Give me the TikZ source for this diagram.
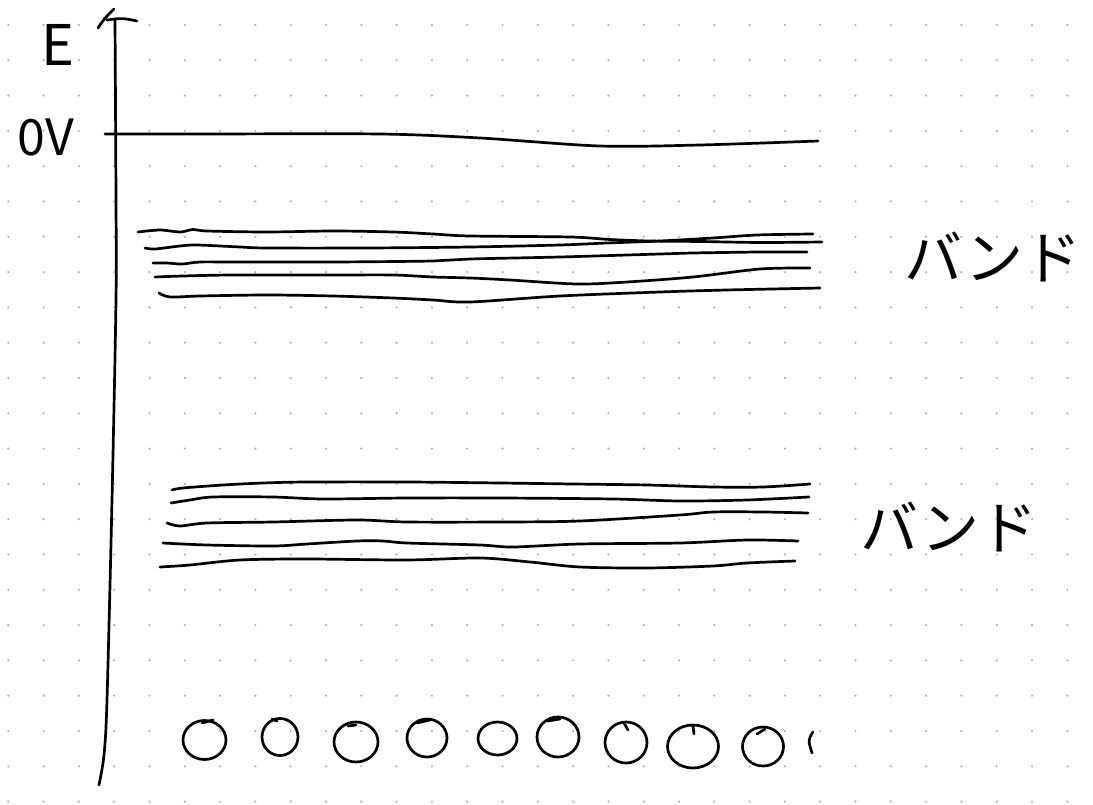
\documentclass[tikz,border=0pt]{standalone}
\usepackage{fontspec}
\newfontfamily\jp{Noto Sans CJK JP}
\begin{document}
\begin{tikzpicture}[x=1pt,y=-1pt,
  hand/.style={line width=2.7pt,line cap=round,line join=round,black},
  gridpt/.style={fill=black!30},
  lbl/.style={inner sep=0pt,anchor=center,text=black}]
\useasboundingbox[fill=white] (0,0) rectangle (1093,805);
% dot grid
\foreach \i in {0,...,30}{
  \foreach \j in {0,...,22}{
    \fill[gridpt] ({8.3+35.3*\i},{25+35.3*\j}) circle[radius=1.2pt];
  }
}
% axis
\draw[hand] plot[smooth] coordinates {(115,19) (116,200) (116,300) (112,500) (107,700) (104,755) (99,785)};
\coordinate (tipL) at (98,28);
\coordinate (tipT) at (114,9);
\coordinate (barL) at (107,20);
\coordinate (barR) at (137,21);
\draw[hand] (tipL) .. controls (104,19) .. (tipT);
\draw[hand] (barL) .. controls (122,18) .. (barR);
% labels
\node[lbl] (E) at (58,45) {\jp\fontsize{56}{56}\selectfont E};
\node[lbl] (zv) at (46,138) {\jp\fontsize{50}{50}\selectfont 0V};
\node[lbl] (band1) at (993,257) {\jp\fontsize{58}{58}\selectfont バンド};
\node[lbl] (band2) at (949,527) {\jp\fontsize{58}{58}\selectfont バンド};
% 0V line
\draw[hand] plot[smooth] coordinates {(105,134) (200,134) (380,134) (480,138) (600,146) (700,145) (818,141)};
% band 1
\draw[hand] plot[smooth] coordinates {(138,232) (160,230) (180,232) (193,229.5) (207,231) (267,232) (333,231) (393,232) (433,234) (470,236) (570,237) (610,239.5) (650,241) (700,241.5) (760,242.5) (822,242)};
\draw[hand] plot[smooth] coordinates {(145,248) (155,249) (180,246) (197,245) (240,247) (267,248) (367,248) (470,247) (560,245) (607,243) (660,241) (713,238) (757,235) (813,234)};
\draw[hand] plot[smooth] coordinates {(153,263) (167,263) (182,264) (200,262) (233,262) (333,262) (433,261) (470,259) (560,257) (660,254) (693,253) (760,252) (807,252)};
\draw[hand] plot[smooth] coordinates {(155,277) (183,276) (233,275) (333,275) (393,275) (433,277) (470,278) (510,280) (577,284) (627,282) (693,277) (760,269) (810,268)};
\draw[hand] plot[smooth] coordinates {(159,293) (170,297) (200,296) (267,295) (333,296) (393,298) (433,300) (470,302) (560,296) (660,292) (727,290) (820,288)};
% band 2
\draw[hand] plot[smooth] coordinates {(172,490) (183,488) (223,485) (263,483) (307,482) (407,482) (500,483) (573,484) (647,485) (713,487) (763,487) (810,484)};
\draw[hand] plot[smooth] coordinates {(171,503) (190,500) (213,497) (273,497) (323,499) (407,498) (500,498) (613,499) (680,501) (747,500) (809,497)};
\draw[hand] plot[smooth] coordinates {(167,523) (180,526) (207,523) (273,522) (357,520) (407,522) (500,522) (580,521) (680,515) (713,512) (763,512) (808,513)};
\draw[hand] plot[smooth] coordinates {(163,543) (207,545) (273,546) (307,544) (357,541) (383,541) (407,543) (480,545) (513,547) (580,544) (680,543) (747,540) (798,541)};
\draw[hand] plot[smooth] coordinates {(160,567) (190,565) (240,560) (307,559) (407,560) (480,558) (530,562) (580,567) (647,568) (713,566) (747,563) (795,561)};
% circles
\draw[hand] (204.5,740) ellipse[x radius=21.5,y radius=19.5];
\draw[hand] (202,723) -- (213,720);
\draw[hand] (280,737) ellipse[x radius=18,y radius=18.5];
\draw[hand] (272,719) -- (277,721);
\draw[hand] (356,742) ellipse[x radius=22,y radius=20];
\draw[hand] (348,726) -- (356,725);
\draw[hand] (427,738) ellipse[x radius=20,y radius=19];
\draw[hand] (417,723) -- (430,720);
\draw[hand] (497.5,738.5) ellipse[x radius=19.5,y radius=16.5];
\draw[hand] (558,737) ellipse[x radius=21,y radius=20];
\draw[hand] (548,721) -- (560,719);
\draw[hand] (626,742.5) ellipse[x radius=21,y radius=20.5];
\draw[hand] (624,723) -- (628,730);
\draw[hand] (693,746.5) ellipse[x radius=25.5,y radius=21.5];
\draw[hand] (693,726) -- (694,734);
\draw[hand] (763,746.5) ellipse[x radius=20.5,y radius=19.5];
\draw[hand] (757,734) -- (765,729);
\draw[hand] (813,732) .. controls (808,740) .. (812,753);
\end{tikzpicture}
\end{document}
